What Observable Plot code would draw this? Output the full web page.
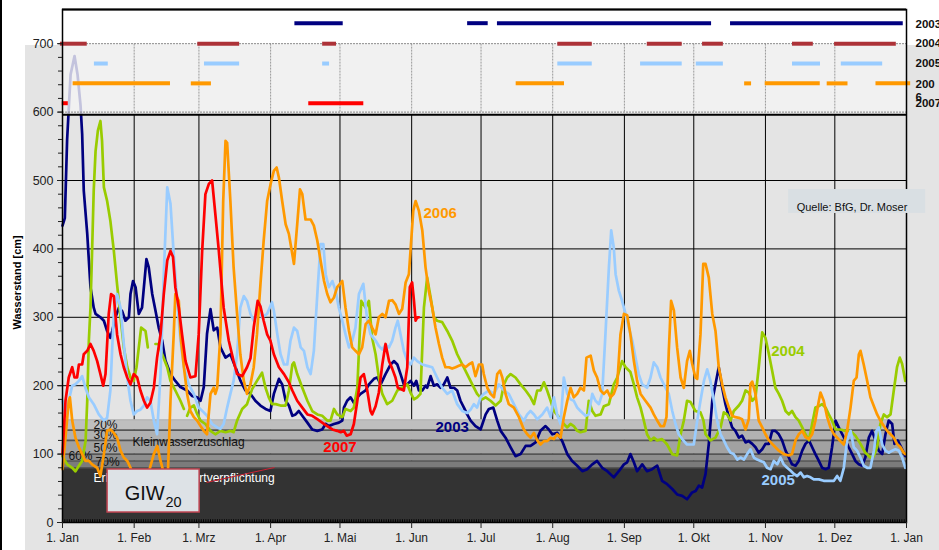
<!DOCTYPE html>
<html>
<head>
<meta charset="utf-8">
<script src="https://cdn.jsdelivr.net/npm/d3@7"></script>
<script src="https://cdn.jsdelivr.net/npm/@observablehq/plot@0.6"></script>
<style>
  body { margin: 0; background: #fff; }
  #wrap { position: relative; width: 939px; height: 550px; overflow: hidden; font-family: "Liberation Sans", Arial, sans-serif; }
  #bg { position: absolute; left: 25px; top: 45px; right: 0; bottom: 0; background: #e4e4e4; }
  #edge { position: absolute; left: 0; top: 0; width: 1.5px; height: 550px; background: #000; }
  #chart { position: absolute; left: 0; top: 0; }
</style>
</head>
<body>
<div id="wrap"><div id="bg"></div><div id="edge"></div><div id="chart"></div></div>
<script>
// ---------- axis / category data ----------
const monthLabels = ["1. Jan","1. Feb","1. Mrz","1. Apr","1. Mai","1. Jun","1. Jul","1. Aug","1. Sep","1. Okt","1. Nov","1. Dez","1. Jan"];
const monthDays = [0,31,59,90,120,151,181,212,243,273,304,334,365];
const yTicks = [0,100,200,300,400,500,600,700];
const yMinor = d3.range(0, 701, 20);
const gridY = [200,300,400,500];
const years = ["2003","2004","2005","2006","2007"];
const lineColors = ["#000080","#99cc00","#99ccff","#ff9900","#ff0000"];
const barColors = ["#000080","#ad3238","#99ccff","#ff9900","#ff0000"];
const rowValues = [730,700,671,642,613];

// ---------- series (day of year, Wasserstand cm) ----------
const s2003 = [[0,434],[1,445],[2,560],[3.5,655],[5.2,682],[6.5,655],[7.8,610],[8.5,568],[9.2,485],[10.7,422],[12.1,344],[13.5,314],[14.3,305],[16.4,300],[17.9,295],[19.3,280],[20.7,270],[21.5,280],[22.9,300],[24.4,314],[25.8,309],[27.2,295],[28.7,300],[29.4,334],[30.5,353],[31.6,344],[33,305],[34.4,314],[36.3,385],[37.3,373],[38.8,334],[40.2,310],[41.6,285],[43.1,266],[44.5,237],[46.7,217],[48.8,207],[51,198],[53.9,193],[56,185],[58.2,183],[59.7,178],[61.1,198],[62.5,276],[64,312],[65.4,281],[66.9,285],[68.3,256],[70.5,241],[72.6,246],[74.8,227],[77,207],[79.1,193],[81.3,188],[83.4,178],[85.6,171],[87.8,166],[89.9,163],
[91.4,188],[93.6,210],[95,202],[96.5,178],[97.9,171],[99.4,156],[100.8,158],[102.2,163],[103.7,156],[105.9,146],[108,136],[110.2,134],[112.3,136],[113.8,144],[115.2,141],[117.4,144],[119.5,146],[121,149],[121.7,168],[123.1,178],[124.6,183],[126,175],[127.5,183],[128.9,188],[131.1,193],[132.5,202],[134.7,210],[136.1,212],[137.6,202],[139.7,217],[141.9,231],[143.3,236],[144.8,231],[146.2,217],[147.6,202],[149.1,202],[150.5,207],[152,200],[153,207],[154.1,193],[155.6,193],[157,200],[157.7,197],[159.2,214],[160.6,200],[162,202],[163.5,197],[164.9,202],[166.4,212],[167.8,197],[169.3,197],[170.7,193],[172.1,178],[173.6,168],[175,158],[176.5,149],[178.6,141],[180.8,136],
[183,158],[184.4,166],[186.3,168],[188,149],[189.5,134],[191.6,124],[193.8,110],[195.9,97],[198.1,100],[200.3,112],[202.4,112],[204.6,117],[206.7,134],[208.9,141],[210.3,136],[211.8,129],[214,131],[216.1,119],[218.3,100],[220.4,90],[222.6,83],[224.8,75],[226.9,78],[229.1,85],[231.2,90],[233.4,80],[235.6,75],[238.4,66],[240.6,75],[242.8,85],[244.2,88],[245.6,100],[247.1,88],[248.5,75],[250.7,85],[252.8,75],[255,78],[257.2,83],[259.3,61],[261.5,56],[263.7,49],[265.8,41],[268,39],[270.1,34],[272.3,44],
[273.8,46],[275.2,54],[276.6,51],[278.1,71],[279.5,115],[281,178],[282.4,202],[283.8,227],[285.3,197],[286.7,173],[288.2,154],[289.6,139],[291,134],[292.5,124],[293.9,127],[295.4,117],[296.8,119],[298.3,115],[299.7,110],[301.1,102],[302.6,107],[304,115],[305.5,115],[306.9,134],[308.3,134],[309.8,129],[311.2,120],[312.7,105],[314.1,95],[315.5,85],[317,83],[318.4,90],[319.9,105],[321.3,115],[322.8,120],[324.2,110],[325.6,100],[327.1,90],[328.5,80],[330,78],[331.4,80],[332.8,110],[334.3,149],[335.7,139],[337.2,129],[338.6,120],[340,110],[341.5,100],[342.9,90],[344.4,85],[345.8,83],[347.2,95],[348.7,124],[350.1,134],[351.6,120],[353,105],[354.5,100],[355.9,129],[357.3,149],[358.8,144],[359.8,115],[361.2,120],[362.7,110],[364.5,97]];

const s2004 = [[0,97],[2,85],[4.2,80],[5.6,75],[7.1,83],[8.5,90],[10,120],[10.7,178],[11.4,266],[12.1,314],[12.8,397],[13.5,485],[14.3,543],[15.3,573],[16.4,587],[17.1,558],[17.9,490],[19.3,470],[20.7,441],[22.2,397],[23.6,348],[25.1,300],[26.5,256],[28,227],[29.4,212],[30.8,207],[32,227],[33,256],[34,285],[35.9,280],[36.9,256],[38.5,null],[40.2,261],[41.6,261],[43.1,246],[45.3,227],[46.7,207],[48.8,193],[51,178],[52.5,166],[53.2,null],[53.9,156],[55.3,168],[56.8,171],[58.2,159],[59.7,149],[61.8,144],[64,134],[66.1,129],[68.3,134],[70.5,132],[72.6,134],[74,132],[75.5,149],[77.7,166],[79.8,173],[82,195],[84.1,207],[86.3,219],[87.8,197],[89.2,183],[90.6,173],
[92.2,173],[94.3,171],[96.5,171],[97.9,193],[99.4,231],[100.1,234],[101.5,217],[103.7,197],[105.9,178],[108,163],[110.2,158],[112.3,156],[114.5,149],[115.9,149],[117.4,166],[118.8,158],[121,154],[122.4,166],[124.6,163],[126,168],[127.5,197],[128.2,251],[129.2,324],[131.1,314],[132.5,324],[133.9,270],[135.4,246],[136.8,212],[138.3,188],[140.4,173],[142.6,178],[144.8,193],[146.9,197],[149.1,202],[150.5,190],[152,180],[153.4,183],[154.8,188],[156.3,314],[157.7,358],[159.2,329],[160.6,300],[162,295],[164.2,293],[166.4,280],[168.5,266],[170.7,246],[172.9,231],[175,217],[177.2,202],[179.3,188],[181.5,180],
[183,183],[185.1,178],[187.3,171],[189.5,178],[190.9,202],[192.3,212],[193.8,217],[195.9,212],[198.1,202],[200.3,193],[202.4,183],[203.9,173],[205.3,193],[206.7,193],[208.2,205],[209.6,193],[211.1,178],[212.5,163],[214.7,154],[216.8,144],[218.3,139],[219.7,144],[221.1,141],[222.6,134],[224,132],[226.2,134],[227.6,178],[229.1,163],[230.5,156],[232.7,158],[234.1,170],[236.3,173],[238.4,202],[239.9,212],[242,236],[243.5,227],[245.6,220],[247.1,202],[248.5,183],[250,168],[251.4,149],[252.8,129],[254.3,120],[255.7,124],[257.2,120],[259.3,122],[261.5,114],[263.7,100],[265.8,98],[267.3,129],[268.7,149],[270.1,178],[271.6,176],[273.7,163],
[275.9,161],[277.2,149],[278.1,129],[280.2,120],[282.4,124],[284.6,139],[286,161],[287.4,158],[288.9,149],[290.3,163],[292.5,171],[293.9,178],[295.4,193],[296.8,190],[298.3,178],[299.7,183],[301.1,227],[302.6,278],[304,270],[305.5,246],[306.9,222],[308.3,197],[309.8,188],[311.2,178],[312.7,163],[314.1,158],[315.5,163],[317,154],[318.4,149],[319.9,139],[321.3,129],[322.8,120],[324.2,144],[325.6,168],[327.1,170],[328.5,173],[330,168],[331.4,158],[332.8,149],[334.3,136],[336.4,136],[338.6,134],[340.8,134],[342.9,127],[345.1,115],[347.2,102],[349.4,95],[350.8,97],[352.3,110],[353.7,144],[355.2,158],[356.6,154],[358.1,158],[359.5,193],[360.9,227],[362.1,241],[363.1,232],[364.5,207]];

const s2005 = [[0,178],[1.3,158],[2.7,178],[4.2,200],[5.6,202],[7.1,207],[8.5,214],[9.9,197],[11.4,183],[13.5,173],[15.7,158],[17.9,149],[19.3,153],[20.7,193],[21.5,256],[22.2,305],[23.6,334],[25.1,314],[26.5,261],[28,212],[29.4,178],[30.8,158],[32.3,163],[33.7,165],[35.2,171],[36.6,183],[38,178],[39.5,149],[40.9,129],[42.4,217],[43.8,363],[45.3,490],[46.7,466],[48.1,392],[49.6,324],[51,266],[52.5,227],[54.6,202],[56.8,188],[58.9,168],[61.1,161],[62.5,156],[64.7,144],[66.9,139],[68.3,137],[69.7,144],[71.2,168],[72.6,188],[74,207],[75.5,246],[76.9,314],[78.4,331],[79.8,324],[81.3,305],[82.7,295],[84.9,310],[86.3,300],[88.5,305],[90.6,322],
[91.4,310],[92.9,275],[94.3,246],[95.8,231],[97.2,231],[98.6,266],[100.1,285],[101.5,280],[103,256],[104.4,251],[105.9,227],[107.3,217],[108.7,251],[110.2,334],[111.6,407],[112.8,407],[113.8,363],[115.2,344],[116.7,353],[118.1,339],[119.5,314],[121,295],[122.4,275],[123.9,256],[125.3,266],[126.7,285],[128.2,334],[130.1,349],[131.8,295],[133.2,275],[135.4,266],[136.8,258],[138.3,253],[139.7,260],[141.2,256],[142.6,266],[144,285],[145,295],[146.2,275],[147.6,251],[149.1,236],[150.5,231],[152,241],[153.4,236],[155.6,231],[157.7,229],[159.9,227],[162,212],[164.2,197],[166.4,188],[168.5,193],[170.7,173],[172.9,163],[175,160],[176.5,165],[177.9,173],[179.3,168],
[180.8,183],[182.2,188],[184.4,193],[186.6,188],[188.7,202],[190.9,193],[193,188],[195.2,173],[197.4,158],[199.5,149],[201,158],[202.4,163],[203.9,158],[205.3,151],[207.5,158],[209.6,168],[211.1,154],[212.5,183],[213.9,158],[215.4,144],[216.8,212],[218.3,188],[219.7,180],[221.1,178],[222.6,168],[224,163],[226.2,156],[227.6,158],[229.1,188],[230.5,178],[232,173],[233.4,188],[234.8,275],[236.3,373],[237.3,427],[238.4,402],[239.2,363],[240.6,339],[242,324],[243.5,305],[244.9,285],[246.4,266],[247.8,241],[249.2,217],[250.7,202],[252.8,197],[254.3,212],[255.7,234],[257.2,227],[258.6,212],[260.8,197],[262.2,188],[263.7,163],[265.1,144],[266.5,129],[268,122],[270.1,114],
[271.6,114],[273,114],[274.5,149],[275.9,178],[277.4,207],[278.8,224],[280.2,207],[281.7,178],[283.1,149],[284.6,129],[286,120],[287.4,110],[288.9,102],[290.3,100],[291.8,92],[293.2,95],[294.7,92],[296.1,100],[297.5,107],[299,95],[300.4,92],[301.9,90],[303.3,88],[304.7,80],[306.2,78],[307.6,90],[309.1,85],[310.5,95],[311.9,85],[313.4,80],[314.8,76],[316.3,71],[317.7,68],[319.2,73],[320.6,66],[322,68],[323.5,66],[324.9,63],[327.1,63],[329.2,61],[331.4,61],[333.6,61],[335,68],[336.4,61],[337.9,80],[339.3,120],[340.8,134],[342.2,110],[343.6,105],[345.1,95],[346.5,83],[348,80],[349.4,80],[350.9,105],[352,134],[353,139],[354.5,114],[355.9,105],[357.3,102],[358.8,105],[360.2,107],[361.7,105],[363.1,95],[364.5,80]];

const s2006 = [[0,78],[1.3,124],[2.7,178],[3.2,183],[4.2,149],[5.6,124],[7.1,110],[8.5,100],[9.9,90],[11.4,90],[12.8,85],[15,80],[16.4,68],[17.9,100],[19.3,134],[20.7,136],[22.2,131],[23.6,124],[25.1,105],[26.5,95],[28,90],[29.4,80],[31,65],[33,55],[35,55],[37,70],[39.5,100],[41,112],[42.4,90],[44,70],[45.5,65],[46.7,178],[48.1,275],[48.8,334],[50.3,324],[51,275],[52.5,227],[53.9,188],[55.3,163],[56.8,154],[58.2,149],[59.7,141],[61.1,134],[62.5,129],[64,188],[65.4,197],[66.1,188],[66.9,197],[68.3,275],[69.5,470],[70.5,558],[71.2,555],[72.6,470],[74,373],[75.5,305],[76.9,246],[78.4,207],[79.8,188],[81.3,202],[82.7,227],[84.1,275],[85.6,348],[87,412],[88.5,470],
[90,495],[91.4,514],[92.6,519],[93.6,504],[95,470],[96.5,436],[97.9,422],[98.9,402],[100.1,378],[101.5,436],[102.7,487],[103.7,480],[105.1,443],[107.3,443],[108.7,434],[110.2,412],[111.6,383],[113.1,353],[114.5,334],[115.9,322],[117.4,329],[118.8,344],[121,353],[122.4,314],[123.9,280],[125.3,256],[126.7,251],[128.2,246],[129.6,256],[131.1,290],[132.5,295],[133.9,285],[135.4,275],[136.8,300],[138.3,305],[139.7,300],[141.2,324],[142.6,325],[144,319],[145.5,305],[146.9,312],[148.4,351],[149.8,363],[150.8,412],[151.7,456],[152.7,470],[154.1,456],[155.6,427],[157,373],[158.4,339],[159.9,314],[161.3,285],[162.8,261],[164.2,241],[165.6,227],[167.1,227],[168.5,225],[170,227],[171.4,229],[172.9,231],[174.3,227],[175.7,231],[177.2,234],[178.6,214],[180.1,231],[181.5,231],
[182.2,217],[183.7,197],[185.1,188],[186.6,183],[188,217],[189.2,222],[190.2,212],[191.6,188],[193,173],[195.2,168],[197.4,154],[199.5,136],[201,129],[202.4,124],[203.9,131],[205.3,120],[206.7,114],[208.2,119],[209.6,119],[211.1,124],[212.5,122],[213.9,129],[215.4,124],[216.8,154],[218.3,178],[219.7,197],[221.1,183],[222.6,188],[224,197],[225.5,193],[226.6,241],[228.4,244],[229.8,222],[231.2,212],[232.7,193],[234.1,188],[235.6,193],[237,183],[238.4,188],[239.9,202],[241.3,275],[242.8,305],[244.2,303],[245.6,275],[247.1,236],[248.5,207],[250,188],[252.1,178],[254.3,168],[255.7,158],[257.2,149],[258.6,141],[260.1,141],[261.2,154],[262.2,251],[263.2,324],[264.4,310],[265.8,256],[267.3,212],[268.7,197],[270.1,236],[271.3,251],[272.3,232],[273.7,212],
[274.5,210],[275.9,275],[277.1,378],[278.1,378],[279.5,358],[281,305],[282.4,280],[283.8,227],[285.3,202],[286.7,183],[288.2,168],[289.6,156],[291,154],[292.5,153],[293.9,151],[295.4,136],[296.8,151],[297.5,202],[298.3,206],[299.7,188],[301.1,149],[302.6,139],[304,129],[305.5,120],[306.9,115],[308.3,110],[309.8,105],[311.9,100],[314.1,98],[315.5,100],[317,120],[318.4,129],[319.9,134],[321.3,125],[322.8,122],[324.2,129],[325.6,149],[327.1,178],[327.8,190],[329.2,178],[330.7,154],[332.1,139],[333.6,129],[335,124],[336.4,119],[337.9,114],[339.3,134],[340.8,168],[342.2,207],[343.4,212],[344.4,246],[345.1,251],[346.5,231],[348,207],[349.4,183],[350.9,170],[352.3,158],[353.7,149],[355.2,141],[356.6,134],[358.1,129],[359.5,124],[360.9,115],[362.4,110],[363.8,102],[364.5,100]];

const s2007 = [[0,100],[1.3,178],[2.7,212],[4.2,227],[5.2,212],[6.3,212],[7.1,231],[8.5,231],[9.2,246],[10.7,251],[12.1,261],[13.5,251],[15,236],[16.4,217],[17.6,200],[18.6,217],[20,305],[21,334],[22.2,331],[23.6,275],[25.1,246],[26.5,227],[28,212],[29.4,202],[30.8,217],[32.3,212],[33.7,193],[35.2,178],[36.6,168],[38,175],[39.5,197],[40.9,241],[42.4,275],[43.8,334],[45.3,383],[46.7,397],[47.8,388],[48.8,344],[50.3,314],[51.7,275],[53.2,236],[55.3,212],[57.5,214],[58.9,275],[60.4,397],[61.8,480],[63.3,495],[64.7,500],[66.1,451],[67.6,397],[69.7,314],[71.9,266],[74,236],[75.5,217],[77.7,214],[79.8,227],[81.3,240],[82.7,285],[84.4,324],[85.6,316],[87,295],[88.5,275],[89.9,266],
[91.4,246],[93.6,227],[95.8,217],[97.9,205],[99.4,193],[101.5,178],[103.7,168],[105.9,158],[108,156],[110.2,151],[112.3,146],[114.5,141],[116.7,136],[118.8,134],[120.3,132],[121.7,134],[122.9,127],[124.6,129],[126,144],[127.5,178],[128.9,212],[130.3,217],[131.8,193],[133.2,163],[133.9,158],[135.4,170],[136.8,190],[138.3,231],[139.7,261],[141.2,236],[142.6,225],[144,212],[145,197],[147.6,193],[149.1,227],[150.2,344],[151.2,351],[152,324],[152.7,295],[153.4,300],[154.1,300]];

const seriesData = [s2003, s2004, s2005, s2006, s2007];

// ---------- periods shown in the upper strip (start day, end day) ----------
const bars2003 = [[100.5,121.4],[175.2,184.1],[188.1,280.7],[288.9,363.6]];
const bars2004 = [[-0.9,10.7],[58.5,76.6],[112.5,118.5],[214.2,229.1],[252.9,268],[276.8,285.8],[315.7,324.7],[333.9,360.6]];
const bars2005 = [[13.8,19.8],[61.4,76.6],[112.5,115.5],[214.2,229.1],[250,268],[274.1,285.8],[315.7,327.8],[336.8,354.7]];
const bars2006 = [[4.6,46.7],[55.7,64.4],[196.2,217.1],[295,298],[303.9,327.7],[330.7,339.7],[351.8,366.8]];
const bars2007 = [[-0.1,2.5],[106.5,130.3]];
const barSets = [bars2003, bars2004, bars2005, bars2006, bars2007];

// ---------- threshold bands ----------
const bands = [
  {lo: 0, hi: 80, fill: "#333333"},
  {lo: 80, hi: 90, fill: "#7b7b7b"},
  {lo: 90, hi: 100, fill: "#8e8e8e"},
  {lo: 100, hi: 120, fill: "#a2a2a2"},
  {lo: 120, hi: 135, fill: "#b1b1b1"},
  {lo: 135, hi: 150, fill: "#bfbfbf"}
];
const bandLines = [80, 90, 100, 120, 135];
const bandTexts = [
  {t: "20%", x: 13.4, y: 143},
  {t: "30%", x: 13.4, y: 127},
  {t: "50%", x: 13.4, y: 108},
  {t: "60%", x: 2.6, y: 96.5},
  {t: "70%", x: 14.3, y: 87.5},
  {t: "Kleinwasserzuschlag", x: 30.3, y: 117}
];
const whiteText = [{t: "Erhaltungs- und Wertverpflichtung", x: 13.4, y: 65.5}];
const strike = [{x1: 62.3, y1: 58.5, x2: 91.7, y2: 80.4}];

const seriesLabels = [
  {t: "2003", x: 161.3, y: 139, c: "#000080"},
  {t: "2004", x: 306.5, y: 250, c: "#99cc00"},
  {t: "2005", x: 302.3, y: 62, c: "#99ccff"},
  {t: "2006", x: 156.1, y: 452, c: "#ff9900"},
  {t: "2007", x: 112.8, y: 110, c: "#ff0000"}
];
const stripLabels = [
  {t: "2003", y: 729}, {t: "2004", y: 700}, {t: "2005", y: 671},
  {t: "200", y: 641}, {t: "6", y: 622}, {t: "2007", y: 613}
];
const giwBox = [{x1: 19.5, x2: 59.3, y1: 14.6, y2: 77.5}];
const quelleBox = [{x1: 314, x2: 373.3, y1: 451.8, y2: 486.8}];
const strip = {lo: 596, mid: 700, hi: 750};

const monthMap = new Map(monthDays.map((d, i) => [d, monthLabels[i]]));
const font = "Liberation Sans, Arial, sans-serif";

const marks = [];
// grid
marks.push(Plot.ruleX(monthDays, {x: d => d, y1: 0, y2: strip.lo, stroke: "#000", strokeWidth: 1}));
marks.push(Plot.ruleY(gridY, {y: d => d, x1: 0, x2: 365, stroke: "#000", strokeWidth: 1}));
// bands
for (const b of bands) marks.push(Plot.rect([b], {x1: 0, x2: 365, y1: "lo", y2: "hi", fill: b.fill}));
marks.push(Plot.ruleY([150], {y: d => d, x1: 0, x2: 365, stroke: "#b0b0b0", strokeWidth: 1}));
marks.push(Plot.ruleY(bandLines, {y: d => d, x1: 0, x2: 365, stroke: "#555", strokeWidth: 1.6}));
marks.push(Plot.ruleX(d3.range(0, 366), {x: d => d, y1: 0, y2: 4, stroke: "#000", strokeWidth: 1}));
marks.push(Plot.text(bandTexts, {x: "x", y: "y", text: "t", textAnchor: "start", fontSize: 12, fill: "#111"}));
marks.push(Plot.text(whiteText, {x: "x", y: "y", text: "t", textAnchor: "start", fontSize: 12, fill: "#fff"}));
marks.push(Plot.link(strike, {x1: "x1", y1: "y1", x2: "x2", y2: "y2", stroke: "#cc2233", strokeWidth: 1}));
// series
seriesData.forEach((s, i) => {
  marks.push(Plot.line(s, {x: d => d[0], y: d => d[1], stroke: lineColors[i], strokeWidth: 2.7, strokeLinejoin: "round"}));
});
// upper strip
marks.push(Plot.rect([strip], {x1: 0, x2: 365, y1: "mid", y2: "hi", fill: "#fff"}));
marks.push(Plot.rect([strip], {x1: 0, x2: 365, y1: "lo", y2: "mid", fill: "#f4f4f4", fillOpacity: 0.8}));
marks.push(Plot.ruleX(monthDays.slice(1, -1), {x: d => d, y1: 600, y2: 700, stroke: "#999", strokeWidth: 1, strokeDasharray: "2,1"}));
marks.push(Plot.ruleY([600, 700], {y: d => d, x1: 0, x2: 365, stroke: "#888", strokeWidth: 1, strokeDasharray: "2,1"}));
marks.push(Plot.ruleY([strip.lo], {y: d => d, x1: 0, x2: 365, stroke: "#000", strokeWidth: 2}));
barSets.forEach((bs, i) => {
  marks.push(Plot.ruleY(bs, {x1: d => d[0], x2: d => d[1], y: rowValues[i], stroke: barColors[i], strokeWidth: 4}));
});
marks.push(Plot.text(stripLabels, {x: 365, y: "y", text: "t", dx: 9, textAnchor: "start", fontSize: 11.5, fontWeight: "bold", fill: "#111"}));
// frame & axes
marks.push(Plot.frame({stroke: "#000", strokeWidth: 1.5}));
marks.push(Plot.ruleY([strip.hi], {y: d => d, x1: 0, x2: 365, stroke: "#000", strokeWidth: 2}));
marks.push(Plot.axisY({ticks: yMinor, tickSize: 4, tickFormat: () => "", label: null}));
marks.push(Plot.axisY({ticks: yTicks, tickSize: 5, tickPadding: 4, fontSize: 12.5, label: null}));
marks.push(Plot.axisX({ticks: monthDays, tickSize: 6, tickPadding: 5, fontSize: 12, tickFormat: d => monthMap.get(d), label: null}));
marks.push(Plot.text(["Wasserstand [cm]"], {x: 0, y: 351, dx: -45, rotate: -90, fontSize: 11, fontWeight: "bold", fill: "#000"}));
// labels
marks.push(Plot.text(seriesLabels, {x: "x", y: "y", text: "t", fill: d => d.c, textAnchor: "start", fontSize: 15, fontWeight: "bold"}));
// GIW box
marks.push(Plot.rect(giwBox, {x1: "x1", x2: "x2", y1: "y1", y2: "y2", fill: "#dde2e6", stroke: "#c04552", strokeWidth: 1.5}));
marks.push(Plot.text(["GIW"], {x: 26.9, y: 42, textAnchor: "start", fontSize: 20, fill: "#111"}));
marks.push(Plot.text(["20"], {x: 44.5, y: 29.5, textAnchor: "start", fontSize: 14.5, fill: "#111"}));
// source box
marks.push(Plot.rect(quelleBox, {x1: "x1", x2: "x2", y1: "y1", y2: "y2", fill: "#d9dfe3"}));
marks.push(Plot.text(["Quelle: BfG, Dr. Moser"], {x: 317.5, y: 461, textAnchor: "start", fontSize: 11, fill: "#111"}));

const chart = Plot.plot({
  width: 939,
  height: 550,
  marginLeft: 62,
  marginRight: 33,
  marginTop: 9,
  marginBottom: 28,
  x: {domain: [0, 365], axis: null},
  y: {domain: [0, 750], axis: null},
  color: {type: "identity"},
  style: {background: "transparent", fontFamily: font, fontSize: "12px", color: "#222", overflow: "visible"},
  marks
});
document.getElementById("chart").appendChild(chart);
</script>
</body>
</html>
